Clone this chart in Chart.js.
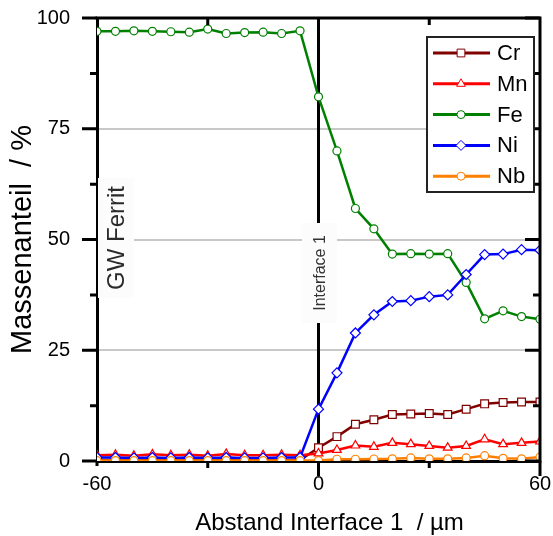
<!DOCTYPE html>
<html>
<head>
<meta charset="utf-8">
<script src="https://cdn.jsdelivr.net/npm/chart.js@4.4.0/dist/chart.umd.min.js"></script>
<style>
  html, body { margin: 0; padding: 0; background: #fff; }
  #wrap { width: 553px; height: 536px; }
</style>
</head>
<body>
<div id="wrap"><canvas id="chart" width="553" height="536"></canvas></div>
<script>
// Abstand zum Interface 1 in µm
var abstand = [-60, -55, -50, -45, -40, -35, -30, -25, -20, -15, -10, -5, 0,
               5, 10, 15, 20, 25, 30, 35, 40, 45, 50, 55, 60];

// Massenanteile in %
var cr = [0.2, 0.2, 0.2, 0.2, 0.2, 0.2, 0.2, 0.2, 0.2, 0.2, 0.2, 0.2, 3.0,
          5.5, 8.3, 9.3, 10.5, 10.6, 10.7, 10.5, 11.7, 12.9, 13.2, 13.3, 13.3];
var mn = [1.3, 1.4, 1.2, 1.5, 1.3, 1.4, 1.2, 1.6, 1.3, 1.3, 1.4, 1.3, 1.7,
          2.5, 3.5, 3.2, 4.1, 3.8, 3.4, 3.0, 3.4, 4.9, 3.8, 4.1, 4.4];
var fe = [97.0, 97.0, 97.1, 97.0, 96.9, 96.8, 97.5, 96.5, 96.7, 96.8, 96.5, 97.1, 82.2,
          70.0, 57.0, 52.4, 46.7, 46.8, 46.7, 46.8, 40.3, 32.1, 33.9, 32.6, 32.0];
var ni = [0.8, 0.8, 0.7, 0.8, 0.7, 0.8, 0.7, 0.8, 0.7, 0.7, 0.8, 0.8, 11.7,
          19.9, 28.9, 33.0, 36.0, 36.2, 37.1, 37.5, 42.1, 46.6, 46.7, 47.7, 47.6];
var nb = [0.1, 0.1, 0.1, 0.1, 0.1, 0.1, 0.1, 0.1, 0.1, 0.1, 0.1, 0.1, 0.1,
          0.4, 0.4, 0.45, 0.5, 0.7, 0.5, 0.5, 0.7, 1.2, 0.6, 0.5, 0.9];

var xTicks = [-60, 0, 60];
var yTicks = [0, 25, 50, 75, 100];

function punkte(werte)
{
        var arr = [];
        for (var i = 0; i < abstand.length; i++)
                arr.push({ x: abstand[i], y: werte[i] });
        return arr;
}

function reihe(label, werte, farbe, stil, radius, order)
{
        return {
                label: label,
                data: punkte(werte),
                borderColor: farbe,
                backgroundColor: '#fff',
                pointBackgroundColor: '#fff',
                pointBorderColor: farbe,
                pointBorderWidth: 1.2,
                pointStyle: stil,
                pointRadius: radius,
                borderWidth: 2.5,
                tension: 0,
                order: order
        };
}

var schrift = 'Arial, "Liberation Sans", sans-serif';

var rahmen = {
        id: 'rahmen',
        beforeDatasetsDraw: function(chart)
        {
                var ctx = chart.ctx, a = chart.chartArea;
                var xs = chart.scales.x;
                var x0 = xs.getPixelForValue(0);
                ctx.save();
                // Interface-Linie
                ctx.strokeStyle = '#000';
                ctx.lineWidth = 3;
                ctx.beginPath();
                ctx.moveTo(x0, a.top);
                ctx.lineTo(x0, a.bottom);
                ctx.stroke();
                ctx.restore();
        },
        afterDraw: function(chart)
        {
                var ctx = chart.ctx, a = chart.chartArea;
                var xs = chart.scales.x, ys = chart.scales.y;
                var i, p;
                ctx.save();
                ctx.strokeStyle = '#000';
                ctx.lineWidth = 3;
                ctx.lineCap = 'butt';

                // Rahmen oben und rechts
                ctx.beginPath();
                ctx.moveTo(a.left - 1.5, a.top);
                ctx.lineTo(a.right, a.top);
                ctx.lineTo(a.right, a.bottom + 1.5);
                ctx.stroke();

                // y-Striche links (aussen) und rechts (innen)
                for (i = 0; i <= 8; i++)
                {
                        var v = i * 12.5;
                        var len = (i % 2 === 0) ? 15 : 7;
                        p = ys.getPixelForValue(v);
                        ctx.beginPath();
                        ctx.moveTo(a.left - len, p);
                        ctx.lineTo(a.left, p);
                        ctx.moveTo(a.right - len, p);
                        ctx.lineTo(a.right, p);
                        ctx.stroke();
                }
                // x-Striche unten (aussen) und oben (innen)
                var xs2 = [-60, -30, 0, 30, 60];
                var lens = [5, 7, 15, 7, 15];
                for (i = 0; i < xs2.length; i++)
                {
                        p = xs.getPixelForValue(xs2[i]);
                        ctx.beginPath();
                        ctx.moveTo(p, a.bottom);
                        ctx.lineTo(p, a.bottom + lens[i]);
                        if (xs2[i] !== -60 && xs2[i] !== 60)
                        {
                                ctx.moveTo(p, a.top);
                                ctx.lineTo(p, a.top + lens[i]);
                        }
                        ctx.stroke();
                }

                // x-Achsentitel, etwas nach rechts versetzt wie im Original
                ctx.fillStyle = '#000';
                ctx.font = '24px ' + schrift;
                ctx.textAlign = 'center';
                ctx.textBaseline = 'alphabetic';
                ctx.fillText('Abstand Interface 1  / µm', (a.left + a.right) / 2 + 11, 530);

                // Beschriftungen
                textKasten(ctx, 'GW Ferrit', 116, 238, 24, '#2a2a2a', 36, 120);
                textKasten(ctx, 'Interface 1', xs.getPixelForValue(0) + 1, 273, 16, '#333', 35, 100);

                legende(chart, a.right - 113, a.top + 19);
                ctx.restore();
        }
};

function textKasten(ctx, text, cx, cy, size, farbe, breite, hoehe)
{
        ctx.save();
        ctx.translate(cx, cy);
        ctx.rotate(-Math.PI / 2);
        ctx.fillStyle = '#fcfcfc';
        ctx.fillRect(-hoehe / 2, -breite / 2, hoehe, breite);
        ctx.fillStyle = farbe;
        ctx.font = size + 'px ' + schrift;
        ctx.textAlign = 'center';
        ctx.textBaseline = 'middle';
        ctx.fillText(text, 0, 1);
        ctx.restore();
}

function legende(chart, x, y)
{
        var ctx = chart.ctx;
        var sets = chart.data.datasets;
        var w = 107, h = 155, zeile = 30.8;
        ctx.save();
        ctx.fillStyle = '#fff';
        ctx.fillRect(x, y, w, h);
        ctx.strokeStyle = '#222';
        ctx.lineWidth = 2;
        ctx.strokeRect(x, y, w, h);
        for (var i = 0; i < sets.length; i++)
        {
                var ds = sets[i];
                var yy = y + 16 + i * zeile;
                ctx.strokeStyle = ds.borderColor;
                ctx.lineWidth = 3;
                ctx.beginPath();
                ctx.moveTo(x + 6, yy);
                ctx.lineTo(x + 63, yy);
                ctx.stroke();
                ctx.fillStyle = '#fff';
                ctx.lineWidth = 1;
                Chart.helpers.drawPoint(ctx, {
                        pointStyle: ds.pointStyle,
                        radius: ds.pointRadius,
                        borderWidth: 1
                }, x + 34, yy);
                ctx.fillStyle = '#000';
                ctx.font = '22px ' + schrift;
                ctx.textAlign = 'left';
                ctx.textBaseline = 'middle';
                ctx.fillText(ds.label, x + 70, yy + 1);
        }
        ctx.restore();
}

var chart = new Chart(document.getElementById('chart').getContext('2d'), {
        type: 'line',
        data: {
                datasets: [
                        reihe('Cr', cr, '#800000', 'rect', 5.5, 4),
                        reihe('Mn', mn, '#ff0000', 'triangle', 5, 2),
                        reihe('Fe', fe, '#008000', 'circle', 4, 3),
                        reihe('Ni', ni, '#0000ff', 'rectRot', 5, 1),
                        reihe('Nb', nb, '#ff8000', 'circle', 4, 0)
                ]
        },
        plugins: [rahmen],
        options: {
                responsive: false,
                animation: false,
                layout: { padding: { top: 18, right: 13, left: 0, bottom: 0 } },
                plugins: {
                        legend: { display: false },
                        tooltip: { enabled: false }
                },
                scales: {
                        x: {
                                type: 'linear',
                                min: -60,
                                max: 60,
                                afterBuildTicks: function(scale) {
                                        scale.ticks = xTicks.map(function(v) { return { value: v }; });
                                },
                                afterFit: function(scale) {
                                        scale.height = 75;
                                        scale.paddingLeft = 0;
                                        scale.paddingRight = 0;
                                },
                                grid: { display: false, drawTicks: false },
                                border: { display: true, color: '#000', width: 3 },
                                ticks: {
                                        font: { family: schrift, size: 20 },
                                        color: '#000',
                                        padding: 11,
                                        maxRotation: 0
                                },
                                title: { display: false }
                        },
                        y: {
                                min: 0,
                                max: 100,
                                afterBuildTicks: function(scale) {
                                        scale.ticks = yTicks.map(function(v) { return { value: v }; });
                                },
                                afterFit: function(scale) {
                                        scale.width = 97;
                                        scale.paddingTop = 0;
                                        scale.paddingBottom = 0;
                                },
                                grid: {
                                        drawTicks: false,
                                        lineWidth: 2,
                                        color: function(c) {
                                                var v = c.tick ? c.tick.value : 0;
                                                return (v > 0 && v < 100) ? '#c8c8c8' : 'rgba(0,0,0,0)';
                                        }
                                },
                                border: { display: true, color: '#000', width: 3 },
                                ticks: {
                                        font: { family: schrift, size: 20 },
                                        color: '#000',
                                        padding: 27
                                },
                                title: {
                                        display: true,
                                        text: 'Massenanteil  / %',
                                        font: { family: schrift, size: 29 },
                                        color: '#000',
                                        padding: { top: 6, bottom: 0 }
                                }
                        }
                }
        }
});
</script>
</body>
</html>
